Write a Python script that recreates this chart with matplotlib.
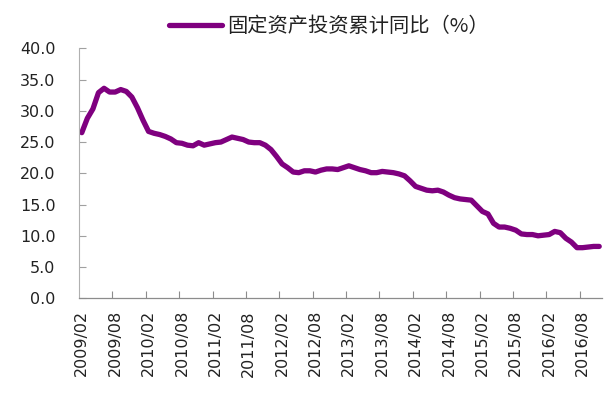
import matplotlib
matplotlib.use("Agg")
import matplotlib.pyplot as plt

plt.rcParams['font.family'] = ['Noto Sans CJK SC', 'DejaVu Sans']

series_name = "固定资产投资累计同比（%）"

months = []
for y in range(2009, 2017):
    for m in range(1, 13):
        if (y == 2009 and m < 2) or (y == 2016 and m > 11):
            continue
        months.append(f"{y}/{m:02d}")

values = [
    26.5, 28.8, 30.3, 32.9, 33.6, 33.0, 33.0, 33.4, 33.1, 32.2, 30.5,          # 2009 Feb-Dec
    28.5, 26.7, 26.4, 26.2, 25.9, 25.5, 24.9, 24.8, 24.5, 24.4, 24.9, 24.5,    # 2010
    24.7, 24.9, 25.0, 25.4, 25.8, 25.6, 25.4, 25.0, 24.9, 24.9, 24.5, 23.8,    # 2011
    22.7, 21.5, 20.9, 20.2, 20.1, 20.4, 20.4, 20.2, 20.5, 20.7, 20.7, 20.6,    # 2012
    20.9, 21.2, 20.9, 20.6, 20.4, 20.1, 20.1, 20.3, 20.2, 20.1, 19.9, 19.6,    # 2013
    18.8, 17.9, 17.6, 17.3, 17.2, 17.3, 17.0, 16.5, 16.1, 15.9, 15.8, 15.7,    # 2014
    14.8, 13.9, 13.5, 12.0, 11.4, 11.4, 11.2, 10.9, 10.3, 10.2, 10.2, 10.0,    # 2015
    10.1, 10.2, 10.7, 10.5, 9.6, 9.0, 8.1, 8.1, 8.2, 8.3, 8.3,                 # 2016 Jan-Nov
]

yticks = [0, 5, 10, 15, 20, 25, 30, 35, 40]
label_step = 6

fig = plt.figure(figsize=(6.05, 3.97), dpi=100)
ax = fig.add_axes([79/605, 98.7/397, 523/605, 250/397])

x = list(range(len(values)))
line, = ax.plot(x, values, color='#7F007F', linewidth=3.8, solid_capstyle='round',
                solid_joinstyle='round', label=series_name)

ax.set_xlim(-0.5, len(values) - 0.5)
ax.set_ylim(0, 40)

# y axis
ax.set_yticks(yticks)
ax.set_yticklabels([f"{v:.1f}" for v in yticks], family='DejaVu Sans')
ax.tick_params(axis='y', direction='in', length=5, width=0.8, color='#A0A0A0',
               pad=17, labelsize=11.5, labelcolor='#222222')

# x axis: tick marks at category boundaries, labels at category centers
label_pos = list(range(0, len(values), label_step))
boundary = [p - 0.5 for p in label_pos[1:]]
ax.set_xticks(boundary)
ax.set_xticklabels([''] * len(boundary))
ax.set_xticks(label_pos, minor=True)
ax.set_xticklabels([months[i] for i in label_pos], minor=True, rotation=90,
                   family='DejaVu Sans')
ax.tick_params(axis='x', which='major', direction='in', length=5, width=0.8, color='#8C8C8C')
ax.tick_params(axis='x', which='minor', length=0, pad=8.5, labelsize=11.5, labelcolor='#222222')

for s in ['top', 'right']:
    ax.spines[s].set_visible(False)
ax.spines['bottom'].set_color('#8C8C8C')
ax.spines['bottom'].set_linewidth(0.9)
ax.spines['left'].set_color('#B0B0B0')
ax.spines['left'].set_linewidth(0.8)
ax.spines['left'].set_linestyle((0, (1, 1)))

fig.legend(handles=[line], loc='center', bbox_to_anchor=(0.544, 1 - 26.7/397),
           frameon=False, fontsize=14.6, handlelength=2.6, handletextpad=0.25,
           labelcolor='#222222')

fig.savefig('out.png', dpi=100)
